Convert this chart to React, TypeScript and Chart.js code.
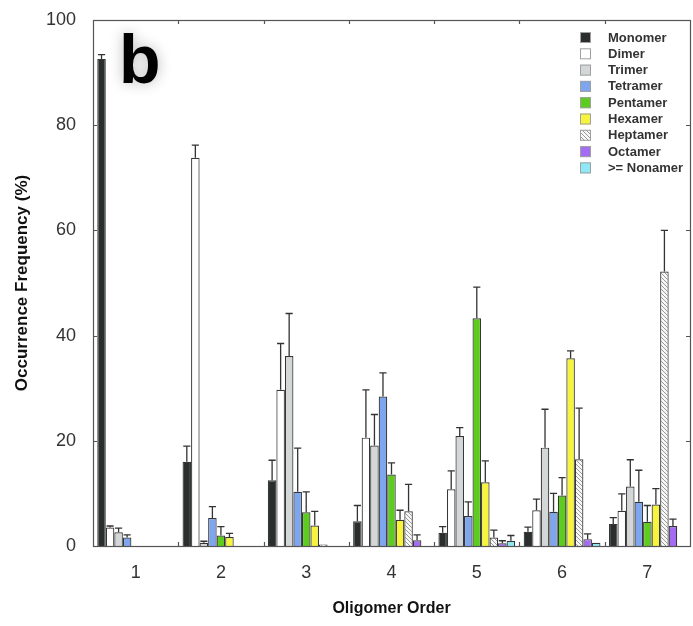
import React, { useEffect, useRef } from 'react';
import { Chart, registerables } from 'chart.js';

Chart.register(...registerables);

const FONT = '"Liberation Sans", Arial, Helvetica, sans-serif';

const categories = ['1', '2', '3', '4', '5', '6', '7'];
const yTicks = [0, 20, 40, 60, 80, 100];

const monomer = [92.6, 16.0, 12.5, 4.7, 2.5, 2.7, 4.2];
const monomerErr = [0.8, 3.0, 3.8, 3.0, 1.2, 0.9, 1.2];
const dimer = [3.5, 73.8, 29.7, 20.6, 10.8, 6.8, 6.7];
const dimerErr = [0.3, 2.4, 8.8, 9.1, 3.5, 2.1, 3.2];
const trimer = [2.6, 0.6, 36.1, 19.1, 20.9, 18.7, 11.3];
const trimerErr = [0.8, 0.3, 8.1, 5.9, 1.6, 7.3, 5.1];
const tetramer = [1.6, 5.3, 10.3, 28.4, 5.7, 6.5, 8.4];
const tetramerErr = [0.5, 2.2, 8.3, 4.5, 2.7, 3.5, 6.0];
const pentamer = [0, 2.0, 6.4, 13.6, 43.3, 9.6, 4.6];
const pentamerErr = [0, 1.7, 3.9, 2.2, 5.9, 3.4, 3.1];
const hexamer = [0, 1.7, 3.9, 5.0, 12.1, 35.7, 7.9];
const hexamerErr = [0, 0.7, 2.7, 1.8, 4.1, 1.4, 3.0];
const heptamer = [0, 0, 0.3, 6.6, 1.6, 16.5, 52.2];
const heptamerErr = [0, 0, 0, 5.1, 1.4, 9.7, 7.8];
const octamer = [0, 0, 0, 1.1, 0.5, 1.3, 3.8];
const octamerErr = [0, 0, 0, 1.0, 0.5, 1.0, 1.3];
const nonamer = [0, 0, 0, 0, 1.0, 0.6, 0];
const nonamerErr = [0, 0, 0, 0, 1.0, 0, 0];

const seriesNames = ['Monomer', 'Dimer', 'Trimer', 'Tetramer', 'Pentamer', 'Hexamer', 'Heptamer', 'Octamer', '>= Nonamer'];
const seriesColors = ['#2a2f2e', '#ffffff', '#d3d7d7', '#7ea6ee', '#5dcc1f', '#f6f43c', 'HATCH', '#a46cf2', '#8ee8f6'];

function makeHatch(): CanvasPattern | string {
  const c = document.createElement('canvas');
  c.width = 4;
  c.height = 4;
  const g = c.getContext('2d');
  if (!g) return '#dddddd';
  g.fillStyle = '#f7f7f7';
  g.fillRect(0, 0, 4, 4);
  g.strokeStyle = '#9a9a9a';
  g.lineWidth = 1;
  g.beginPath();
  g.moveTo(0, 0);
  g.lineTo(4, 4);
  g.moveTo(-1, 3);
  g.lineTo(1, 5);
  g.moveTo(3, -1);
  g.lineTo(5, 1);
  g.stroke();
  const p = g.createPattern(c, 'repeat');
  return p || '#dddddd';
}

export default function App() {
  const ref = useRef<HTMLCanvasElement>(null);

  useEffect(() => {
    const canvas = ref.current;
    if (!canvas) return;
    const hatch = makeHatch();
    const values = [monomer, dimer, trimer, tetramer, pentamer, hexamer, heptamer, octamer, nonamer];
    const errs = [monomerErr, dimerErr, trimerErr, tetramerErr, pentamerErr, hexamerErr, heptamerErr, octamerErr, nonamerErr];

    const datasets = seriesNames.map((name, i) => ({
      label: name,
      data: values[i].map((v) => (v === 0 ? null : v)),
      backgroundColor: seriesColors[i] === 'HATCH' ? hatch : seriesColors[i],
      borderColor: '#363636',
      borderWidth: 1.2,
      categoryPercentage: 0.9,
      barPercentage: 1.0,
    }));

    const decorPlugin = {
      id: 'decor',
      afterDatasetsDraw(chart: any) {
        const ctx = chart.ctx as CanvasRenderingContext2D;
        const area = chart.chartArea;
        const xs = chart.scales.x;
        const ys = chart.scales.y;
        ctx.save();
        // error bars
        ctx.strokeStyle = '#333333';
        ctx.lineWidth = 1.3;
        chart.data.datasets.forEach((ds: any, i: number) => {
          const meta = chart.getDatasetMeta(i);
          meta.data.forEach((el: any, j: number) => {
            const v = values[i][j];
            const e = errs[i][j];
            if (!v || !e) return;
            const yTop = ys.getPixelForValue(v);
            const yErr = ys.getPixelForValue(v + e);
            const hw = el.width * 0.42;
            ctx.beginPath();
            ctx.moveTo(el.x, yTop);
            ctx.lineTo(el.x, yErr);
            ctx.moveTo(el.x - hw, yErr);
            ctx.lineTo(el.x + hw, yErr);
            ctx.stroke();
          });
        });
        // frame
        ctx.strokeStyle = '#555555';
        ctx.lineWidth = 1.2;
        ctx.strokeRect(area.left + 0.5, area.top + 0.5, area.right - area.left, area.bottom - area.top);
        // inward ticks
        ctx.beginPath();
        yTicks.forEach((t) => {
          if (t === 0 || t === 100) return;
          const y = Math.round(ys.getPixelForValue(t)) + 0.5;
          ctx.moveTo(area.left, y);
          ctx.lineTo(area.left + 4, y);
          ctx.moveTo(area.right, y);
          ctx.lineTo(area.right - 4, y);
        });
        for (let i = 0; i < categories.length - 1; i++) {
          const x = Math.round((xs.getPixelForValue(i) + xs.getPixelForValue(i + 1)) / 2) + 0.5;
          ctx.moveTo(x, area.bottom);
          ctx.lineTo(x, area.bottom - 4);
          ctx.moveTo(x, area.top);
          ctx.lineTo(x, area.top + 4);
        }
        ctx.stroke();
        // panel letter
        ctx.font = `bold 68px ${FONT}`;
        ctx.fillStyle = '#000000';
        ctx.textBaseline = 'alphabetic';
        ctx.textAlign = 'left';
        ctx.shadowColor = 'rgba(0,0,0,0.28)';
        ctx.shadowBlur = 14;
        ctx.fillText('b', area.left + 26, area.top + 63);
        ctx.shadowBlur = 0;
        ctx.shadowColor = 'transparent';
        // legend
        const sx = area.right - 110;
        const sy = area.top + 12;
        const pitch = 16.3;
        const sw = 11;
        ctx.font = `bold 13px ${FONT}`;
        ctx.textBaseline = 'middle';
        chart.data.datasets.forEach((ds: any, i: number) => {
          const y = sy + i * pitch;
          ctx.fillStyle = ds.backgroundColor;
          ctx.fillRect(sx, y, sw, sw);
          ctx.strokeStyle = '#a0a0a0';
          ctx.lineWidth = 1;
          ctx.strokeRect(sx + 0.5, y + 0.5, sw - 1, sw - 1);
          ctx.fillStyle = '#333333';
          ctx.fillText(ds.label, sx + 28, y + sw / 2 + 0.5);
        });
        ctx.restore();
      },
    };

    const chart = new Chart(canvas, {
      type: 'bar',
      data: { labels: categories, datasets: datasets as any },
      options: {
        animation: false,
        responsive: true,
        maintainAspectRatio: false,
        layout: { padding: { top: 20, right: 3, left: 0, bottom: 0 } },
        plugins: { legend: { display: false }, tooltip: { enabled: false } },
        scales: {
          x: {
            grid: { display: false, drawTicks: false },
            border: { display: false },
            ticks: { color: '#333333', font: { family: FONT, size: 18 }, padding: 16 },
            title: {
              display: true,
              text: 'Oligomer Order',
              color: '#111111',
              font: { family: FONT, size: 16, weight: 'bold' },
              padding: { top: 0, bottom: 8 },
            },
            afterFit: (s: any) => {
              s.height = 80;
              s.paddingLeft = 0;
              s.paddingRight = 0;
            },
          },
          y: {
            min: 0,
            max: 100,
            grid: { display: false, drawTicks: false },
            border: { display: false },
            ticks: {
              stepSize: 20,
              color: '#333333',
              font: { family: FONT, size: 18 },
              padding: 17,
            },
            title: {
              display: true,
              text: 'Occurrence Frequency (%)',
              color: '#111111',
              font: { family: FONT, size: 17, weight: 'bold' },
              padding: { top: 12, bottom: 0 },
            },
            afterFit: (s: any) => {
              s.width = 93;
              s.paddingTop = 0;
              s.paddingBottom = 0;
            },
          },
        },
      } as any,
      plugins: [decorPlugin],
    });

    return () => {
      chart.destroy();
    };
  }, []);

  return (
    <div style={{ position: 'absolute', left: 0, top: 0, width: 693, height: 626, background: '#ffffff' }}>
      <canvas ref={ref} />
    </div>
  );
}
